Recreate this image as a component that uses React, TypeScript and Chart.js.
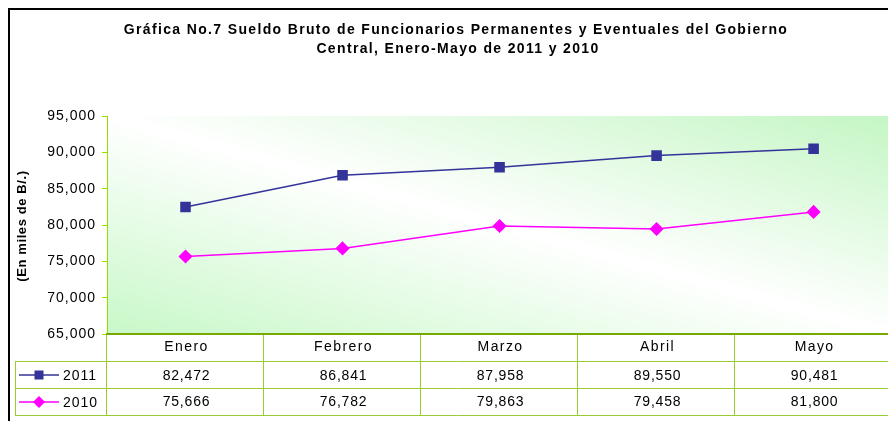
import { useEffect, useRef } from "react";
import { Chart, registerables } from "chart.js";

Chart.register(...registerables);

const categories = ["Enero", "Febrero", "Marzo", "Abril", "Mayo"];
const seriesLabels = ["2011", "2010"];
const values2011 = [82472, 86841, 87958, 89550, 90481];
const values2010 = [75666, 76782, 79863, 79458, 81800];
const seriesColors = ["#333399", "#ff00ff"];
const titleLines = [
  "Gráfica No.7 Sueldo Bruto de Funcionarios Permanentes y Eventuales del Gobierno",
  "Central, Enero-Mayo de 2011 y 2010",
];
const yAxisTitle = "(En miles de B/.)";
const yMin = 65000;
const yMax = 95000;
const yStep = 5000;

const FONT = '"Liberation Sans", Arial, sans-serif';
const fmt = (v: number) => v.toLocaleString("en-US");

function drawMarker(ctx: CanvasRenderingContext2D, style: string, x: number, y: number, color: string) {
  ctx.save();
  ctx.fillStyle = color;
  ctx.beginPath();
  if (style === "rect") {
    ctx.rect(x - 4.5, y - 4.5, 9, 9);
  } else {
    ctx.moveTo(x, y - 6);
    ctx.lineTo(x + 6, y);
    ctx.lineTo(x, y + 6);
    ctx.lineTo(x - 6, y);
    ctx.closePath();
  }
  ctx.fill();
  ctx.restore();
}

function spaced(ctx: CanvasRenderingContext2D, px: number) {
  (ctx as any).letterSpacing = `${px}px`;
}

const decorPlugin = {
  id: "decor",
  beforeDraw(chart: any) {
    const ctx: CanvasRenderingContext2D = chart.ctx;
    const { left, top, right, bottom } = chart.chartArea;
    ctx.save();
    ctx.fillStyle = "#ffffff";
    ctx.fillRect(0, 0, chart.width, chart.height);
    // diagonal gradient in normalized plot space
    ctx.translate(left, top);
    ctx.scale(right - left, bottom - top);
    const g = ctx.createLinearGradient(0, 1, 1, 0);
    g.addColorStop(0, "#c8f8c8");
    g.addColorStop(0.5, "#ffffff");
    g.addColorStop(1, "#c4f6c4");
    ctx.fillStyle = g;
    ctx.fillRect(0, 0, 1, 1);
    ctx.restore();
    // letter spacing for axis tick labels drawn by Chart.js
    spaced(ctx, 1);
  },
  afterDraw(chart: any) {
    const ctx: CanvasRenderingContext2D = chart.ctx;
    const { left, top, right, bottom } = chart.chartArea;
    const xs = chart.scales.x;
    const W = chart.width;
    ctx.save();

    // outer border
    ctx.strokeStyle = "#000000";
    ctx.lineWidth = 2;
    ctx.beginPath();
    ctx.moveTo(9, chart.height + 10);
    ctx.lineTo(9, 9);
    ctx.lineTo(W + 10, 9);
    ctx.stroke();

    // title
    ctx.fillStyle = "#000000";
    ctx.font = `bold 14px ${FONT}`;
    spaced(ctx, 1.35);
    ctx.textAlign = "center";
    ctx.textBaseline = "middle";
    ctx.fillText(titleLines[0], 456, 30);
    ctx.fillText(titleLines[1], 458, 49);

    // y axis title
    ctx.save();
    ctx.translate(22, (top + bottom) / 2 + 1);
    ctx.rotate(-Math.PI / 2);
    ctx.font = `bold 13px ${FONT}`;
    spaced(ctx, 0.6);
    ctx.fillText(yAxisTitle, 0, 0);
    ctx.restore();

    // data table
    const rowH = 27;
    const r1 = bottom + rowH; // 361
    const r2 = r1 + rowH; // 388
    const r3 = r2 + rowH; // 415
    const tableLeft = 15;
    ctx.strokeStyle = "#99cc33";
    ctx.lineWidth = 1;
    ctx.beginPath();
    [r1, r2, r3].forEach((y) => {
      ctx.moveTo(tableLeft, y + 0.5);
      ctx.lineTo(W, y + 0.5);
    });
    ctx.moveTo(tableLeft + 0.5, r1);
    ctx.lineTo(tableLeft + 0.5, r3 + 1);
    const catW = (right - left) / categories.length;
    for (let i = 0; i <= categories.length; i++) {
      const x = Math.round(left + i * catW) - 0.5;
      ctx.moveTo(x, bottom);
      ctx.lineTo(x, r3 + 1);
    }
    ctx.stroke();

    // bottom axis line
    ctx.strokeStyle = "#77aa00";
    ctx.lineWidth = 2;
    ctx.beginPath();
    ctx.moveTo(left - 1, bottom);
    ctx.lineTo(W, bottom);
    ctx.stroke();

    // texts
    ctx.fillStyle = "#000000";
    ctx.font = `14px ${FONT}`;
    ctx.textAlign = "center";
    const rowsVals = [values2011, values2010];
    categories.forEach((c, i) => {
      const x = xs.getPixelForValue(i);
      spaced(ctx, 1.4);
      ctx.fillText(c, x + 1, bottom + 13.5);
      spaced(ctx, 0.8);
      ctx.fillText(fmt(rowsVals[0][i]), x + 1, r1 + 15);
      ctx.fillText(fmt(rowsVals[1][i]), x + 1, r2 + 14);
    });

    // legend keys
    const styles = ["rect", "rectRot"];
    [r1 + 14, r2 + 14].forEach((y, k) => {
      ctx.strokeStyle = seriesColors[k];
      ctx.lineWidth = 1.5;
      ctx.beginPath();
      ctx.moveTo(19, y);
      ctx.lineTo(59, y);
      ctx.stroke();
      drawMarker(ctx, styles[k], 39, y, seriesColors[k]);
      ctx.fillStyle = "#000000";
      ctx.textAlign = "left";
      ctx.font = `14px ${FONT}`;
      spaced(ctx, 1);
      ctx.fillText(seriesLabels[k], 63, y + 1);
    });
    ctx.restore();
    spaced(ctx, 0);
  },
};

export default function App() {
  const ref = useRef<HTMLCanvasElement>(null);
  useEffect(() => {
    if (!ref.current) return;
    const chart = new Chart(ref.current, {
      type: "line",
      data: {
        labels: categories,
        datasets: [
          {
            label: seriesLabels[0],
            data: values2011,
            borderColor: seriesColors[0],
            backgroundColor: seriesColors[0],
            borderWidth: 1.5,
            pointStyle: "rect",
            pointRadius: 6.4,
            pointHoverRadius: 6.4,
            tension: 0,
          },
          {
            label: seriesLabels[1],
            data: values2010,
            borderColor: seriesColors[1],
            backgroundColor: seriesColors[1],
            borderWidth: 1.5,
            pointStyle: "rectRot",
            pointRadius: 6,
            pointHoverRadius: 6,
            tension: 0,
          },
        ],
      },
      options: {
        responsive: false,
        animation: false,
        layout: { padding: { left: 0, top: 116, right: 5, bottom: 87 } },
        plugins: { legend: { display: false }, title: { display: false }, tooltip: { enabled: false } },
        scales: {
          x: { type: "category", offset: true, display: false },
          y: {
            min: yMin,
            max: yMax,
            ticks: {
              stepSize: yStep,
              color: "#000000",
              font: { family: FONT, size: 14 },
              padding: 6,
              callback: (v: any) => fmt(Number(v)),
            },
            grid: { drawOnChartArea: false, drawTicks: true, tickLength: 5, color: "#99dd00" },
            border: { display: true, color: "#99dd00", width: 1 },
            afterFit: (scale: any) => {
              scale.width = 107;
            },
          },
        },
      },
      plugins: [decorPlugin],
    });
    return () => chart.destroy();
  }, []);
  return (
    <div style={{ position: "fixed", left: 0, top: 0, width: 888, height: 421, overflow: "hidden", background: "#fff" }}>
      <canvas ref={ref} width={900} height={421} style={{ display: "block", position: "absolute", left: 0, top: 0 }} />
    </div>
  );
}
